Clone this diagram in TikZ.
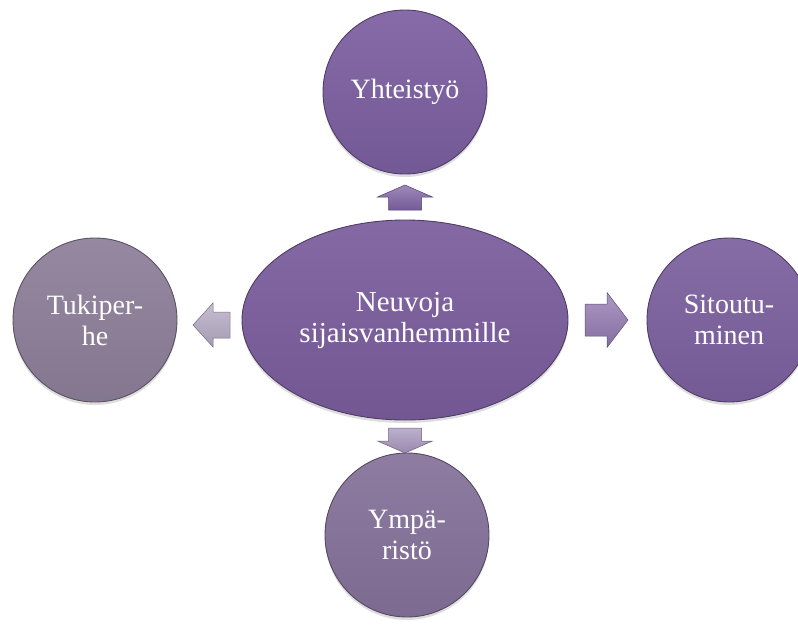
\documentclass[tikz,border=0pt]{standalone}
\usepackage{fontspec}
\setmainfont{Liberation Serif}
\usetikzlibrary{shapes.geometric,shadows}
\definecolor{cTop}{HTML}{7B5EA0}
\definecolor{cMid}{HTML}{7A5C9C}
\definecolor{cLeft}{HTML}{8C7E98}
\definecolor{cBot}{HTML}{847199}
\definecolor{cRight}{HTML}{7B609E}
\definecolor{aTop}{HTML}{7E62A4}
\definecolor{aLeft}{HTML}{B3A8C2}
\definecolor{aRight}{HTML}{9076AF}
\definecolor{aBot}{HTML}{A795BD}
\tikzset{
  bubble/.style={circle, minimum size=164pt, inner sep=0pt, draw=#1!65!black, line width=0.9pt,
    top color=#1!92!white, bottom color=#1!94!black,
    drop shadow={shadow xshift=0pt, shadow yshift=-3pt, opacity=0.22, fill=black!60},
    text=white, font=\fontsize{28}{31}\selectfont, align=center},
  hub/.style={ellipse, minimum width=326pt, minimum height=200pt, inner sep=0pt, draw=#1!65!black, line width=0.9pt,
    top color=#1!92!white, bottom color=#1!94!black,
    drop shadow={shadow xshift=0pt, shadow yshift=-3pt, opacity=0.22, fill=black!60},
    text=white, font=\fontsize{29}{31}\selectfont, align=center},
  blockarrow/.style={draw=#1!65!black, line width=0.5pt, top color=#1!75!white, bottom color=#1!92!black},
}
\begin{document}
\begin{tikzpicture}[x=1pt,y=-1pt]
\useasboundingbox (0,0) rectangle (798,630);
\node[bubble=cTop] (yht) at (405,92) {Yhteistyö};
\node[bubble=cLeft] (tuki) at (95,320) {Tukiper-\\he};
\node[bubble=cRight] (sit) at (729,320) {Sitoutu-\\minen};
\node[bubble=cBot] (ymp) at (407,535) {Ympä-\\ristö};
\node[hub=cMid] (hub) at (405,320) {Neuvoja\\sijaisvanhemmille};
% block arrows (up, left, right, down)
\path[blockarrow=aTop] (405,185) -- (432.5,197) -- (421.5,197) -- (421.5,210) -- (388.5,210) -- (388.5,197) -- (377.5,197) -- cycle;
\path[blockarrow=aLeft] (193,325) -- (213,303) -- (213,312) -- (230,312) -- (230,338) -- (213,338) -- (213,347) -- cycle;
\path[blockarrow=aRight] (628,320) -- (607,292.5) -- (607,304) -- (585,304) -- (585,336) -- (607,336) -- (607,347.5) -- cycle;
\path[blockarrow=aBot] (405,453) -- (432.5,441) -- (421.5,441) -- (421.5,428) -- (388.5,428) -- (388.5,441) -- (377.5,441) -- cycle;
\end{tikzpicture}
\end{document}
